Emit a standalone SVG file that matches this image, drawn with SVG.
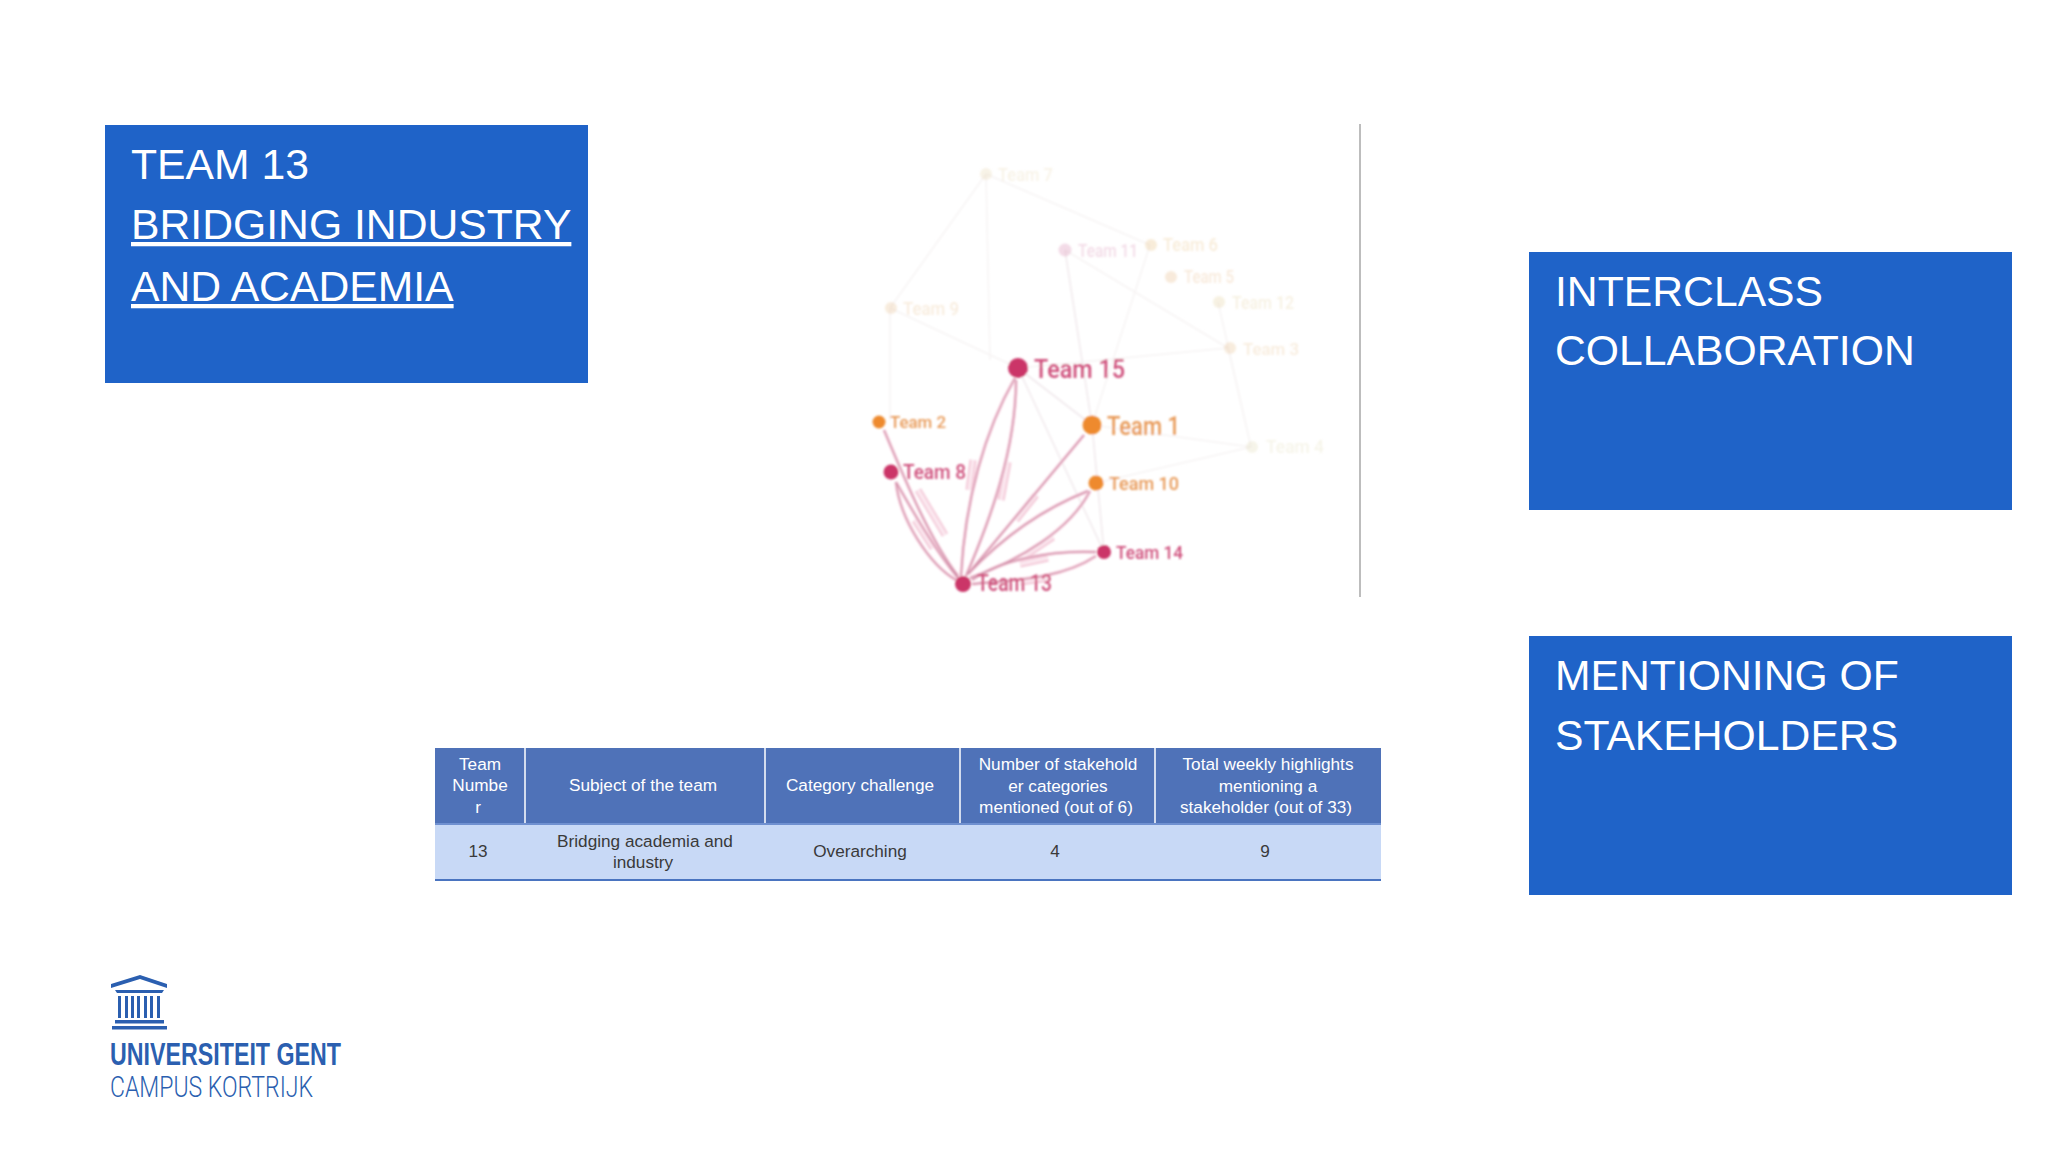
<svg xmlns="http://www.w3.org/2000/svg" width="2048" height="1152" viewBox="0 0 2048 1152">
<style>
.box{fill:#1f63c8}
.t{font-family:"Liberation Sans",Arial,sans-serif;font-size:42.7px;fill:#fff}
.h{font-family:"Liberation Sans",Arial,sans-serif;font-size:17.2px;fill:#fff;text-anchor:middle}
.c{font-family:"Liberation Sans",Arial,sans-serif;font-size:17.2px;fill:#3a3a3a;text-anchor:middle}
.g{font-family:Roboto,"Liberation Sans",sans-serif;font-weight:500}
.e2{fill:none;stroke:#f0b6cb;stroke-width:7;opacity:.8}
.e3{fill:none;stroke:#fbe9f0;stroke-width:3.5}
.f{fill:none;stroke:#f7f4f4;stroke-width:1.5}
.f2{fill:none;stroke:#f1eaed;stroke-width:1.6}
.lg{fill:#2b5fb0}
</style>
<defs><filter id="b" x="-5%" y="-5%" width="110%" height="110%"><feGaussianBlur stdDeviation="0.8"/></filter>
<g id="curves">
<path d="M1015 378C985 430 965 500 961 576"/>
<path d="M1016 380C1016 450 990 520 966 576"/>
<path d="M1084 435L968 574"/>
<path d="M1088 491C1040 510 1000 540 968 574"/>
<path d="M1090 491C1070 530 1020 560 970 578"/>
<path d="M1096 552C1050 550 1000 560 972 580"/>
<path d="M1096 556C1060 580 1010 580 972 584"/>
<path d="M884 430C905 480 930 540 958 576"/>
<path d="M896 482C915 515 935 550 958 578"/>
<path d="M896 482C900 520 930 565 956 580"/>
</g>
<g id="bars">
<path d="M973 460L969 490"/><path d="M1008 462L1001 500"/><path d="M1036 495L1016 520"/><path d="M1053 537L1026 555"/><path d="M1048 558L1020 564"/><path d="M1050 578L1020 582"/><path d="M918 490L945 535"/><path d="M915 520L933 548"/>
</g></defs>
<rect width="2048" height="1152" fill="#fff"/>

<g id="title-box"><rect class="box" x="105" y="125" width="483" height="258"/>
<text class="t" x="131" y="179">TEAM 13</text>
<text class="t" x="131" y="239" text-decoration="underline">BRIDGING INDUSTRY</text>
<text class="t" x="131" y="301" text-decoration="underline">AND ACADEMIA</text></g>
<g id="interclass-box"><rect class="box" x="1529" y="252" width="483" height="258"/>
<text class="t" x="1555" y="306">INTERCLASS</text>
<text class="t" x="1555" y="365">COLLABORATION</text></g>
<g id="stakeholders-box"><rect class="box" x="1529" y="636" width="483" height="259"/>
<text class="t" x="1555" y="690">MENTIONING OF</text>
<text class="t" x="1555" y="750">STAKEHOLDERS</text></g>

<rect id="divider" x="1359" y="124" width="2" height="473" fill="#bdbdbd"/>

<g id="network" filter="url(#b)">
<g id="connectors">
<path class="f" d="M986 174L890 308M986 174L1150 245M986 174L990 360M890 308L1018 368M1150 245L1092 425M1065 250L1228 348M1228 348L1251 447M1218 302L1251 447M1092 425L1251 447M1096 483L1251 447M1018 368L1228 348M890 308L890 420"/>
<path class="f2" d="M1065 250L1092 425M1018 368L1104 552M1018 368L1092 425M1092 425L1104 552"/>
<use href="#bars" class="e2"/><use href="#bars" class="e3"/>
<use href="#curves" fill="none" stroke="#fad5e2" stroke-width="3.5"/>
<use href="#curves" fill="none" stroke="#cf8ba6" stroke-width="1.4"/>
</g>
<g id="team-7" opacity=".25"><circle cx="986" cy="174" r="6" fill="#e3cf9e"/><text class="g" x="998" y="181" font-size="19" fill="#e3cf9e" textLength="55" lengthAdjust="spacingAndGlyphs">Team 7</text></g>
<g id="team-11" opacity=".4"><circle cx="1065" cy="250" r="6.5" fill="#e0a6c2"/><text class="g" x="1078" y="257" font-size="19" fill="#e0a6c2" textLength="60" lengthAdjust="spacingAndGlyphs">Team 11</text></g>
<g id="team-6" opacity=".3"><circle cx="1151" cy="245" r="6" fill="#e8c080"/><text class="g" x="1163" y="251" font-size="18" fill="#e8c080" textLength="55" lengthAdjust="spacingAndGlyphs">Team 6</text></g>
<g id="team-5" opacity=".3"><circle cx="1171" cy="277" r="6" fill="#e8b888"/><text class="g" x="1184" y="283" font-size="18" fill="#e8b888" textLength="50" lengthAdjust="spacingAndGlyphs">Team 5</text></g>
<g id="team-12" opacity=".3"><circle cx="1219" cy="302" r="6" fill="#e3cf9e"/><text class="g" x="1232" y="309" font-size="18" fill="#e3cf9e" textLength="62" lengthAdjust="spacingAndGlyphs">Team 12</text></g>
<g id="team-3" opacity=".3"><circle cx="1230" cy="348" r="6" fill="#e8c090"/><text class="g" x="1243" y="355" font-size="17" fill="#e8c090" textLength="56" lengthAdjust="spacingAndGlyphs">Team 3</text></g>
<g id="team-4" opacity=".25"><circle cx="1252" cy="447" r="6" fill="#dcd4a8"/><text class="g" x="1266" y="453" font-size="18" fill="#dcd4a8" textLength="58" lengthAdjust="spacingAndGlyphs">Team 4</text></g>
<g id="team-9" opacity=".3"><circle cx="891" cy="308" r="6" fill="#e8c090"/><text class="g" x="903" y="315" font-size="18" fill="#e8c090" textLength="56" lengthAdjust="spacingAndGlyphs">Team 9</text></g>
<g id="team-15"><circle cx="1018" cy="368" r="10" fill="#cb3468"/><text class="g" x="1034" y="378" font-size="25" fill="#cf4f7c" textLength="91" lengthAdjust="spacingAndGlyphs">Team 15</text></g>
<g id="team-1"><circle cx="1092" cy="425" r="9.5" fill="#ee8a2e"/><text class="g" x="1107" y="435" font-size="25" fill="#e89a58" textLength="73" lengthAdjust="spacingAndGlyphs">Team 1</text></g>
<g id="team-2"><circle cx="879" cy="422" r="6.5" fill="#ee8a2e"/><text class="g" x="890" y="428" font-size="17" fill="#e89a58" textLength="56" lengthAdjust="spacingAndGlyphs">Team 2</text></g>
<g id="team-8"><circle cx="891" cy="472" r="7.5" fill="#cb3468"/><text class="g" x="903" y="479" font-size="20" fill="#cf4f7c" textLength="63" lengthAdjust="spacingAndGlyphs">Team 8</text></g>
<g id="team-10"><circle cx="1096" cy="483" r="7.5" fill="#ee8a2e"/><text class="g" x="1109" y="490" font-size="19" fill="#e89a58" textLength="70" lengthAdjust="spacingAndGlyphs">Team 10</text></g>
<g id="team-14"><circle cx="1104" cy="552" r="7" fill="#cb3468"/><text class="g" x="1116" y="559" font-size="18.5" fill="#cf4f7c" textLength="67" lengthAdjust="spacingAndGlyphs">Team 14</text></g>
<g id="team-13"><circle cx="963" cy="584" r="8" fill="#cb3468"/><text class="g" x="977" y="591" font-size="23" fill="#cf4f7c" textLength="75" lengthAdjust="spacingAndGlyphs">Team 13</text></g>
</g>

<g id="table">
<rect x="435" y="748" width="946" height="76" fill="#4f72b8"/>
<rect x="435" y="824" width="946" height="56" fill="#c8d9f6"/>
<rect x="435" y="879" width="946" height="2" fill="#4a74c0"/>
<rect x="435" y="823" width="946" height="2" fill="#6f90d0"/>
<path d="M525 748V823M765 748V823M960 748V823M1155 748V823" stroke="#fff" stroke-width="1.5"/>
<text class="h" x="480" y="770">Team</text><text class="h" x="480" y="791">Numbe</text><text class="h" x="478" y="813">r</text>
<text class="h" x="643" y="791">Subject of the team</text>
<text class="h" x="860" y="791">Category challenge</text>
<text class="h" x="1058" y="770">Number of stakehold</text><text class="h" x="1058" y="792">er categories</text><text class="h" x="1056" y="813">mentioned (out of 6)</text>
<text class="h" x="1268" y="770">Total weekly highlights</text><text class="h" x="1268" y="792">mentioning a</text><text class="h" x="1266" y="813">stakeholder (out of 33)</text>
<text class="c" x="478" y="857">13</text>
<text class="c" x="645" y="847">Bridging academia and</text><text class="c" x="643" y="868">industry</text>
<text class="c" x="860" y="857">Overarching</text>
<text class="c" x="1055" y="857">4</text>
<text class="c" x="1265" y="857">9</text>
</g>

<g id="logo">
<path class="lg" d="M111 984L140 975L167 984V988L140 979L111 988Z"/>
<path class="lg" d="M115 990H164L162 993H117Z"/>
<path class="lg" d="M118 996h3v22h-3zM125 996h3v22h-3zM131 996h3v22h-3zM137 996h3v22h-3zM144 996h3v22h-3zM150 996h3v22h-3zM157 996h3v22h-3z"/>
<rect class="lg" x="115" y="1020" width="49" height="3.5"/>
<rect class="lg" x="112" y="1026" width="55" height="3.5"/>
<text x="110" y="1065" font-family="'Liberation Sans Narrow','Liberation Sans',sans-serif" font-weight="700" font-size="31" fill="#2b5fb0" textLength="231" lengthAdjust="spacingAndGlyphs">UNIVERSITEIT GENT</text>
<text x="110" y="1097" font-family="Roboto,'Liberation Sans',sans-serif" font-weight="300" font-size="30" fill="#2b5fb0" textLength="203" lengthAdjust="spacingAndGlyphs">CAMPUS KORTRIJK</text>
</g>
</svg>
